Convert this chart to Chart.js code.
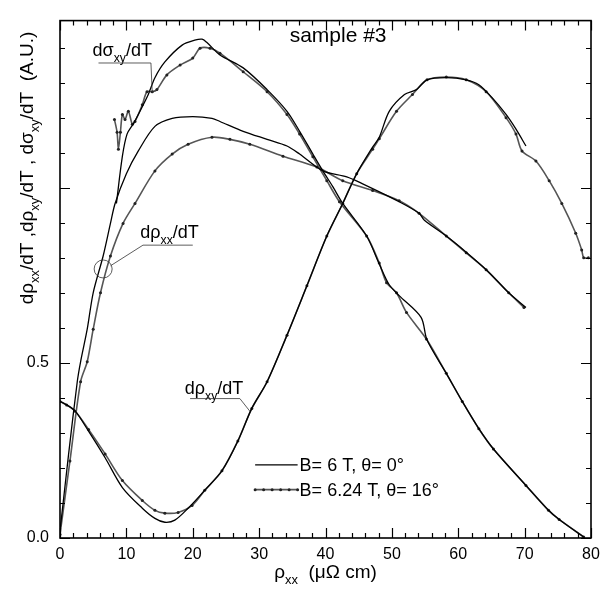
<!DOCTYPE html>
<html>
<head>
<meta charset="utf-8">
<script src="https://cdn.jsdelivr.net/npm/chart.js@4.4.1/dist/chart.umd.min.js"></script>
<style>
  html, body { margin: 0; padding: 0; background: #fff; }
  #wrap { width: 615px; height: 592px; }
</style>
</head>
<body>
<div id="wrap"><canvas id="chart" width="615" height="592"></canvas></div>
<script>
/* d rho_xx/dT, d rho_xy/dT, d sigma_xy/dT vs rho_xx — sample #3 */

const FONT = "'Liberation Sans', Arial, Helvetica, sans-serif";

// ---- data : B = 6 T, theta = 0 (solid line) ----
const rxx6_x = [0, 1.3, 2.6, 3.1, 4.1, 5.0, 6.5, 7.6, 8.3, 10.0, 11.8, 14.3, 16.9, 20.0, 22.9, 24.1, 27.6, 31.2, 34.2, 36.1, 39.6, 43.2, 45.6, 51.1, 54.1, 54.9, 58.2, 61.2, 64.2, 67.6, 70.2];
const rxx6_y = [0.02, 0.24, 0.446, 0.503, 0.596, 0.70, 0.805, 0.898, 0.955, 1.04, 1.105, 1.175, 1.198, 1.203, 1.198, 1.189, 1.161, 1.138, 1.119, 1.096, 1.048, 1.031, 1.011, 0.960, 0.927, 0.907, 0.862, 0.816, 0.766, 0.70, 0.658];

const rxy6_x = [0, 1, 2.3, 4.3, 6.8, 9.4, 12.4, 14.3, 15.8, 17.3, 19.3, 21.8, 24.4, 26.8, 28.9, 31.2, 34.2, 37.2, 40.2, 42.6, 44.7, 47.1, 48.1, 49.6, 51.9, 53.7, 55.3, 58.2, 61.2, 63.1, 65.1, 67.2, 68.7, 70.2];
const rxy6_y = [0.39, 0.38, 0.362, 0.305, 0.229, 0.144, 0.085, 0.056, 0.045, 0.051, 0.085, 0.136, 0.192, 0.277, 0.37, 0.446, 0.579, 0.72, 0.862, 0.955, 1.04, 1.116, 1.144, 1.218, 1.266, 1.28, 1.308, 1.314, 1.308, 1.294, 1.257, 1.209, 1.167, 1.119];

const sxy6_x = [8.5, 9.4, 10.1, 11.0, 11.8, 13.3, 14.3, 15.8, 18.4, 20.3, 21.4, 22.1, 24.1, 27.6, 31.2, 34.2, 36.1, 38.1, 39.6, 41.1, 42.6, 46.2, 48.1, 49.6, 51.1, 54.4, 55.3, 58.2, 60.6, 63.1, 65.3, 70.2, 73.6, 75.2, 78.9];
const sxy6_y = [0.955, 1.09, 1.153, 1.181, 1.209, 1.266, 1.314, 1.359, 1.407, 1.421, 1.424, 1.415, 1.379, 1.342, 1.280, 1.218, 1.161, 1.096, 1.048, 1.003, 0.955, 0.862, 0.782, 0.723, 0.692, 0.630, 0.565, 0.470, 0.390, 0.312, 0.254, 0.150, 0.079, 0.053, 0.003];

// ---- data : B = 6.24 T, theta = 16 (line + dots) ----
const rxx624_x = [0, 1.5, 3.1, 4.1, 5.0, 6.1, 7.6, 9.5, 11.3, 14.3, 16.9, 19.3, 22.9, 25.6, 28.6, 33.6, 38.7, 42.6, 47.1, 51.1, 54.1, 58.2, 61.2, 64.2, 67.6, 69.9];
const rxx624_y = [0.01, 0.22, 0.446, 0.503, 0.596, 0.70, 0.805, 0.898, 0.955, 1.048, 1.096, 1.124, 1.144, 1.138, 1.124, 1.090, 1.059, 1.02, 0.992, 0.963, 0.927, 0.862, 0.814, 0.766, 0.70, 0.658];

const rxy624_x = [0, 1, 2.3, 4.3, 6.8, 9.4, 12.4, 14.3, 15.8, 17.8, 19.9, 21.8, 24.4, 26.8, 28.9, 31.2, 34.2, 37.2, 40.2, 42.6, 44.7, 47.1, 48.1, 50.7, 53.1, 55.3, 58.2, 61.2, 64.2, 67.2, 68.7, 69.6, 71.7, 73.7, 75.6, 77.7, 78.6, 78.9, 79.6];
const rxy624_y = [0.39, 0.38, 0.362, 0.31, 0.24, 0.164, 0.107, 0.079, 0.071, 0.073, 0.093, 0.136, 0.192, 0.277, 0.37, 0.446, 0.579, 0.72, 0.862, 0.955, 1.04, 1.11, 1.14, 1.218, 1.266, 1.308, 1.316, 1.308, 1.274, 1.20, 1.153, 1.105, 1.076, 1.02, 0.955, 0.87, 0.822, 0.80, 0.80];

const sxy624_x = [8.2, 8.6, 8.8, 9.1, 9.4, 9.8, 10.3, 10.9, 11.3, 12.4, 13.1, 13.9, 14.6, 16.1, 18.1, 20.0, 21.1, 22.6, 24.1, 27.6, 31.2, 34.2, 36.1, 38.1, 40.2, 42.1, 46.2, 48.1, 49.2, 50.7, 52.2, 55.2, 58.2, 60.6, 63.1, 65.3, 70.2, 73.6, 75.2, 78.9];
const sxy624_y = [1.195, 1.158, 1.11, 1.158, 1.209, 1.195, 1.218, 1.181, 1.189, 1.237, 1.274, 1.274, 1.28, 1.322, 1.350, 1.370, 1.398, 1.398, 1.384, 1.331, 1.274, 1.209, 1.153, 1.088, 1.02, 0.960, 0.862, 0.785, 0.729, 0.70, 0.644, 0.568, 0.470, 0.390, 0.312, 0.254, 0.150, 0.079, 0.053, 0.003];

// ---- axes ----
const X_TICKS = [0, 10, 20, 30, 40, 50, 60, 70, 80];
const Y_TICKS = [0, 0.5];
const X_MAX = 80;
const Y_MAX = 1.477;

const pts = (xs, ys) => xs.map((x, i) => ({ x, y: ys[i] }));

const solid = (data) => ({
  data, borderColor: '#000', borderWidth: 1.3, pointRadius: 0, tension: 0.3, fill: false,
});
const dotted = (data) => ({
  data, borderColor: '#555', borderWidth: 1.6, pointRadius: 1.5, pointBorderWidth: 0,
  pointBackgroundColor: '#222', tension: 0.3, fill: false,
});

// text with subscripts: parts = [[text, isSub], ...]
function richText(ctx, parts, x, y, size, align) {
  const sub = size * 0.68;
  const w = parts.map(([t, s]) => { ctx.font = `${s ? sub : size}px ${FONT}`; return ctx.measureText(t).width; });
  const total = w.reduce((a, b) => a + b, 0);
  let cx = align === 'center' ? x - total / 2 : x;
  ctx.textAlign = 'left';
  ctx.textBaseline = 'alphabetic';
  parts.forEach(([t, s], i) => {
    ctx.font = `${s ? sub : size}px ${FONT}`;
    ctx.fillText(t, cx, s ? y + size * 0.3 : y);
    cx += w[i];
  });
  return total;
}

/* ---------- frame, inward ticks, labels ---------- */
const decor = {
  id: 'decor',
  afterDatasetsDraw(chart) {
    const { ctx, chartArea: a, scales: { x, y } } = chart;
    const X = (v) => x.getPixelForValue(v);
    const Y = (v) => y.getPixelForValue(v);
    ctx.save();
    ctx.strokeStyle = '#000';
    ctx.fillStyle = '#000';

    // frame
    ctx.lineWidth = 1.6;
    ctx.strokeRect(a.left, a.top, a.right - a.left, a.bottom - a.top);

    // ticks (inward, all four sides)
    ctx.lineWidth = 1.2;
    ctx.beginPath();
    for (let v = 0; v <= X_MAX + 1e-6; v += 2) {
      const L = v % 10 === 0 ? 10 : 5;
      const px = Math.round(X(v)) + 0.5;
      ctx.moveTo(px, a.bottom); ctx.lineTo(px, a.bottom - L);
      ctx.moveTo(px, a.top); ctx.lineTo(px, a.top + L);
    }
    for (let k = 0; k <= 14; k++) {
      const v = k / 10;
      const L = k % 5 === 0 ? 10 : 5;
      const py = Math.round(Y(v)) + 0.5;
      ctx.moveTo(a.left, py); ctx.lineTo(a.left + L, py);
      ctx.moveTo(a.right, py); ctx.lineTo(a.right - L, py);
    }
    ctx.stroke();

    // sample label
    ctx.font = `21px ${FONT}`;
    ctx.textAlign = 'left';
    ctx.textBaseline = 'alphabetic';
    ctx.fillText('sample #3', X(34.6), Y(1.415));

    // curve labels with leader lines
    ctx.lineWidth = 0.8;
    ctx.strokeStyle = '#333';
    // d sigma_xy / dT
    richText(ctx, [['dσ', false], ['xy', true], ['/dT', false]], X(4.9), Y(1.375), 18, 'left');
    ctx.beginPath();
    ctx.moveTo(X(5.8), Y(1.356)); ctx.lineTo(X(13.7), Y(1.356)); ctx.lineTo(X(13.9), Y(1.271));
    ctx.stroke();
    // d rho_xx / dT
    richText(ctx, [['dρ', false], ['xx', true], ['/dT', false]], X(12.1), Y(0.855), 18, 'left');
    ctx.beginPath();
    ctx.moveTo(X(20.0), Y(0.836)); ctx.lineTo(X(12.5), Y(0.836)); ctx.lineTo(X(7.6), Y(0.777));
    ctx.stroke();
    ctx.beginPath();
    ctx.arc(X(6.5), Y(0.768), 9, 0, Math.PI * 2);
    ctx.stroke();
    // d rho_xy / dT
    richText(ctx, [['dρ', false], ['xy', true], ['/dT', false]], X(18.8), Y(0.41), 18, 'left');
    ctx.beginPath();
    ctx.moveTo(X(19.6), Y(0.398)); ctx.lineTo(X(27.1), Y(0.398)); ctx.lineTo(X(28.6), Y(0.362));
    ctx.stroke();

    // legend
    ctx.strokeStyle = '#000';
    ctx.lineWidth = 1.3;
    const lx0 = X(29.4), lx1 = X(35.8), ly0 = Y(0.209), ly1 = Y(0.138);
    ctx.beginPath(); ctx.moveTo(lx0, ly0); ctx.lineTo(lx1, ly0); ctx.stroke();
    ctx.strokeStyle = '#555';
    ctx.lineWidth = 1.6;
    ctx.beginPath(); ctx.moveTo(lx0, ly1); ctx.lineTo(lx1, ly1); ctx.stroke();
    ctx.fillStyle = '#222';
    for (let i = 0; i <= 5; i++) {
      ctx.beginPath(); ctx.arc(lx0 + (lx1 - lx0) * i / 5, ly1, 1.5, 0, Math.PI * 2); ctx.fill();
    }
    ctx.fillStyle = '#000';
    ctx.font = `18px ${FONT}`;
    ctx.textBaseline = 'middle';
    ctx.fillText('B= 6 T, θ= 0°', X(36.1), ly0 + 1);
    ctx.fillText('B= 6.24 T, θ= 16°', X(36.1), ly1 + 1);

    // axis titles
    richText(ctx, [['ρ', false], ['xx', true], ['  (μΩ cm)', false]], (a.left + a.right) / 2, 578, 19, 'center');
    ctx.save();
    ctx.translate(33, 168);
    ctx.rotate(-Math.PI / 2);
    richText(ctx, [
      ['dρ', false], ['xx', true], ['/dT ,dρ', false], ['xy', true],
      ['/dT , dσ', false], ['xy', true], ['/dT  (A.U.)', false],
    ], 0, 0, 19, 'center');
    ctx.restore();

    ctx.restore();
  },
};

new Chart(document.getElementById('chart'), {
  type: 'line',
  data: {
    datasets: [
      solid(pts(rxx6_x, rxx6_y)),
      solid(pts(rxy6_x, rxy6_y)),
      solid(pts(sxy6_x, sxy6_y)),
      dotted(pts(rxx624_x, rxx624_y)),
      dotted(pts(rxy624_x, rxy624_y)),
      dotted(pts(sxy624_x, sxy624_y)),
    ],
  },
  options: {
    responsive: false,
    animation: false,
    devicePixelRatio: 1,
    layout: { padding: { top: 15, right: 24, left: 0, bottom: 0 } },
    plugins: { legend: { display: false }, tooltip: { enabled: false } },
    scales: {
      x: {
        type: 'linear', min: 0, max: X_MAX,
        grid: { display: false, drawTicks: false },
        border: { display: false },
        afterBuildTicks: (s) => { s.ticks = X_TICKS.map((value) => ({ value })); },
        ticks: { padding: 7, color: '#000', maxRotation: 0, font: { family: FONT, size: 16 } },
        afterFit: (s) => { s.height = 54; },
      },
      y: {
        type: 'linear', min: 0, max: Y_MAX,
        grid: { display: false, drawTicks: false },
        border: { display: false },
        afterBuildTicks: (s) => { s.ticks = Y_TICKS.map((value) => ({ value })); },
        ticks: { padding: 11, color: '#000', font: { family: FONT, size: 16 }, callback: (v) => Number(v).toFixed(1) },
        afterFit: (s) => { s.width = 60; },
      },
    },
  },
  plugins: [decor],
});
</script>
</body>
</html>
